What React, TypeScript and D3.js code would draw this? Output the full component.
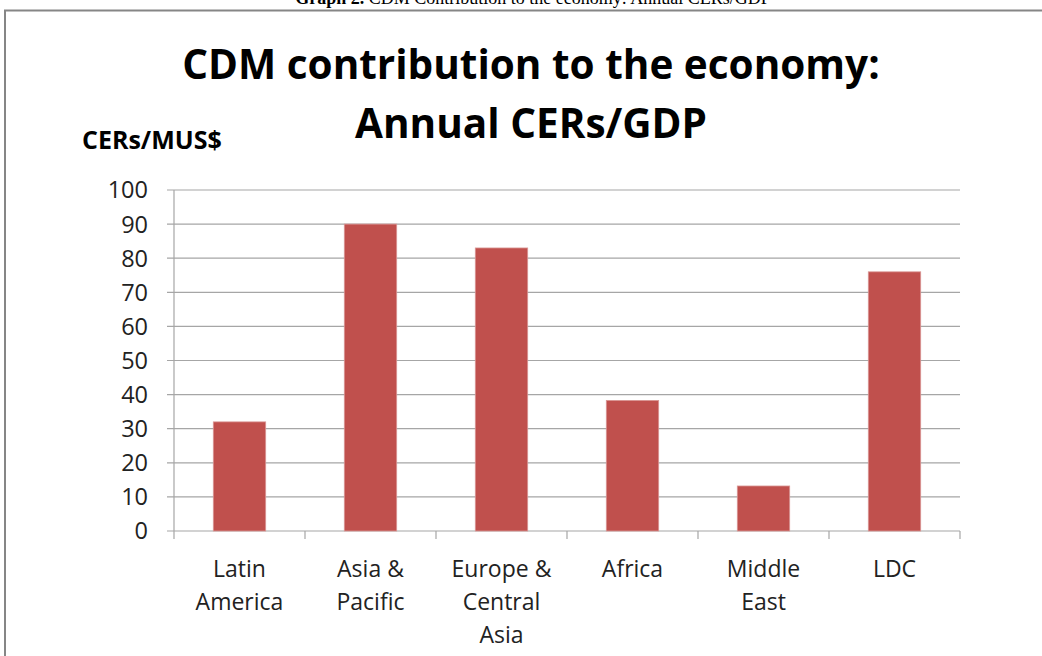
import React from "react";
import * as d3 from "d3";

const categories: string[][] = [
  ["Latin", "America"],
  ["Asia &", "Pacific"],
  ["Europe &", "Central", "Asia"],
  ["Africa"],
  ["Middle", "East"],
  ["LDC"],
];
const values: number[] = [32, 90, 83, 38.3, 13.2, 76];
const yTicks: number[] = [0, 10, 20, 30, 40, 50, 60, 70, 80, 90, 100];
const titleLines: string[] = ["CDM contribution to the economy:", "Annual CERs/GDP"];
const yLabel = "CERs/MUS$";

const W = 1042;
const H = 656;
const plot = { left: 174, right: 960, top: 190, bottom: 531 };
const FONT = "'Open Sans', 'DejaVu Sans', sans-serif";

export default function App() {
  const x = d3
    .scaleBand<number>()
    .domain(values.map((_, i) => i))
    .range([plot.left, plot.right])
    .paddingInner(0.6)
    .paddingOuter(0.3);
  const band = d3
    .scaleBand<number>()
    .domain(values.map((_, i) => i))
    .range([plot.left, plot.right]);
  const y = d3.scaleLinear().domain([0, 100]).range([plot.bottom, plot.top]);

  return (
    <svg
      width={W}
      height={H}
      style={{ position: "absolute", left: 0, top: 0, background: "#fff" }}
    >
      {/* caption cut off at top */}
      <text
        x={533}
        y={4}
        textAnchor="middle"
        fontFamily="'Liberation Serif', 'Times New Roman', serif"
        fontSize={18}
        fill="#000"
      >
        <tspan fontWeight="bold">Graph 2.</tspan>
        <tspan> CDM Contribution to the economy: Annual CERs/GDP</tspan>
      </text>
      {/* frame */}
      <path d={`M5,${H} V10.5 H${W}`} fill="none" stroke="#868686" strokeWidth={2} />

      {/* title */}
      {titleLines.map((t, i) => (
        <text
          key={i}
          x={531}
          y={79 + i * 59}
          textAnchor="middle"
          fontFamily={FONT}
          fontWeight="bold"
          fontSize={40.5}
          fill="#000"
        >
          {t}
        </text>
      ))}
      <text x={82} y={149} fontFamily={FONT} fontWeight="bold" fontSize={25} fill="#000">
        {yLabel}
      </text>

      {/* gridlines + y ticks */}
      {yTicks.map((t) => (
        <g key={t}>
          <line
            x1={plot.left - 7}
            x2={plot.right}
            y1={y(t)}
            y2={y(t)}
            stroke="#a6a6a6"
            strokeWidth={1.2}
          />
          <text
            x={148}
            y={y(t)}
            dy="0.36em"
            textAnchor="end"
            fontFamily={FONT}
            fontSize={23.5}
            fill="#222"
          >
            {t}
          </text>
        </g>
      ))}
      {/* y axis */}
      <line x1={plot.left} x2={plot.left} y1={plot.top} y2={plot.bottom} stroke="#a6a6a6" strokeWidth={1.2} />
      {/* x ticks */}
      {values.map((_, i) => (
        <line
          key={i}
          x1={band(i)! + band.bandwidth()}
          x2={band(i)! + band.bandwidth()}
          y1={plot.bottom}
          y2={plot.bottom + 8}
          stroke="#a6a6a6"
          strokeWidth={1.2}
        />
      ))}
      <line x1={plot.left} x2={plot.left} y1={plot.bottom} y2={plot.bottom + 8} stroke="#a6a6a6" strokeWidth={1.2} />

      {/* bars */}
      {values.map((v, i) => (
        <rect
          key={i}
          x={x(i)}
          y={y(v)}
          width={x.bandwidth()}
          height={y(0) - y(v)}
          fill="#c0504d"
          stroke="#d99694"
          strokeWidth={0.8}
        />
      ))}

      {/* category labels */}
      {categories.map((lines, i) => (
        <text
          key={i}
          x={band(i)! + band.bandwidth() / 2}
          y={577}
          textAnchor="middle"
          fontFamily={FONT}
          fontSize={23}
          fill="#222"
        >
          {lines.map((l, j) => (
            <tspan key={j} x={band(i)! + band.bandwidth() / 2} dy={j === 0 ? 0 : 33}>
              {l}
            </tspan>
          ))}
        </text>
      ))}
    </svg>
  );
}
